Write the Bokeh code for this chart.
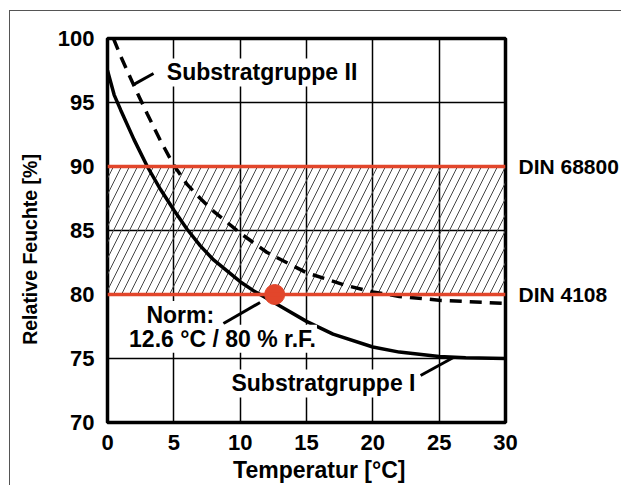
from bokeh.plotting import figure
from bokeh.models import Label, BoxAnnotation, Span, FixedTicker, LinearAxis
from bokeh.embed import file_html
from bokeh.resources import INLINE

# ---- data ----
temp_I = [0, 0.5, 1, 2, 3, 4, 5, 6, 7, 8, 10, 11, 12, 13, 15, 17, 20, 22, 25, 27, 30]
rh_I = [97.5, 95.6, 94.4, 92.1, 90.0, 88.2, 86.6, 85.1, 83.8, 82.7, 81.0, 80.3, 79.7, 79.1,
        77.9, 76.9, 75.9, 75.5, 75.15, 75.05, 75.0]

temp_II = [0.45, 1, 2, 2.5, 3, 4, 5, 6, 7, 8, 10, 12, 15, 18, 20, 22, 25, 30]
rh_II = [100, 98.6, 96.3, 95.2, 94.1, 92.0, 90.1, 88.6, 87.5, 86.5, 84.8, 83.3, 81.7, 80.7,
         80.2, 79.85, 79.55, 79.3]

din_levels = [90, 80]
din_labels = ["DIN 68800", "DIN 4108"]

norm_point = (12.6, 80)

x_ticks = [0, 5, 10, 15, 20, 25, 30]
y_ticks = [70, 75, 80, 85, 90, 95, 100]

# leader lines: (x0, y0) -> (x1, y1) in data units
leaders_x0 = [3.47, 8.74, 23.6]
leaders_y0 = [97.27, 77.73, 73.67]
leaders_x1 = [1.96, 11.5, 26.07]
leaders_y1 = [96.4, 79.38, 75.08]

RED = "#e2462b"
FONT = "Liberation Sans"
NB = "\u00a0"

p = figure(frame_width=398, frame_height=384, x_range=(0, 30), y_range=(70, 100),
           output_backend="svg", toolbar_location=None,
           min_border_left=97, min_border_right=10,
           min_border_top=27, min_border_bottom=20)

p.styles = {"margin-left": "9px", "margin-top": "10px",
            "border-left": "1px solid #555", "border-top": "1px solid #555"}

p.outline_line_color = "black"
p.outline_line_width = 3.5
p.background_fill_color = "white"
p.border_fill_color = "white"

for ax in (p.xaxis, p.yaxis):
    ax.axis_line_color = None
    ax.major_tick_line_color = None
    ax.minor_tick_line_color = None
    ax.major_label_text_font = FONT
    ax.major_label_text_font_style = "bold"
    ax.major_label_text_font_size = "22px"
    ax.major_label_text_color = "black"
    ax.axis_label_text_font = FONT
    ax.axis_label_text_font_style = "bold"
    ax.axis_label_text_color = "black"

p.xaxis.ticker = FixedTicker(ticks=x_ticks)
p.yaxis.ticker = FixedTicker(ticks=y_ticks)
p.xaxis.major_label_standoff = 6
p.yaxis.major_label_standoff = 7
p.xaxis.axis_label = NB * 4 + "Temperatur [°C]"
p.yaxis.axis_label = "Relative Feuchte [%]" + NB * 7
p.xaxis.axis_label_standoff = 4
p.yaxis.axis_label_standoff = 14
p.xaxis.axis_label_text_font_size = "23px"
p.yaxis.axis_label_text_font_size = "19.5px"

din_axis = LinearAxis(ticker=FixedTicker(ticks=din_levels),
                      major_label_overrides={lvl: txt for lvl, txt in zip(din_levels, din_labels)},
                      axis_line_color=None, major_tick_line_color=None, minor_tick_line_color=None,
                      major_label_standoff=7, major_label_text_font=FONT,
                      major_label_text_font_style="bold", major_label_text_font_size="21px",
                      major_label_text_color="black")
p.add_layout(din_axis, "right")

p.grid.grid_line_color = "black"
p.grid.grid_line_width = 1.5

# hatched band between the two DIN levels
band = BoxAnnotation(bottom=din_levels[1], top=din_levels[0], fill_alpha=0,
                     line_color=None, hatch_pattern="/", hatch_color="#444444",
                     hatch_weight=1, hatch_scale=16, level="underlay")
p.add_layout(band)

for lvl in din_levels:
    p.add_layout(Span(location=lvl, dimension="width", line_color=RED, line_width=3.5))

p.line(temp_I, rh_I, line_color="black", line_width=3.5)
p.line(temp_II, rh_II, line_color="black", line_width=3.5, line_dash="12 8")

p.segment(leaders_x0, leaders_y0, leaders_x1, leaders_y1, line_color="black", line_width=3)

p.scatter([norm_point[0]], [norm_point[1]], size=20, color=RED)


def lab(x, y, text, align="left"):
    p.add_layout(Label(x=x, y=y, text=text, text_font=FONT, text_font_style="bold",
                       text_font_size="23px", text_color="black", text_baseline="middle",
                       text_align=align, background_fill_color="white", padding=1))


lab(4.4, 97.35, "Substratgruppe II")
lab(2.86, 78.4, "Norm:")
lab(1.55, 76.55, "12.6 °C / 80 % r.F.")
lab(9.27, 73.05, "Substratgruppe I")

open("out.html", "w").write(file_html(p, INLINE))
